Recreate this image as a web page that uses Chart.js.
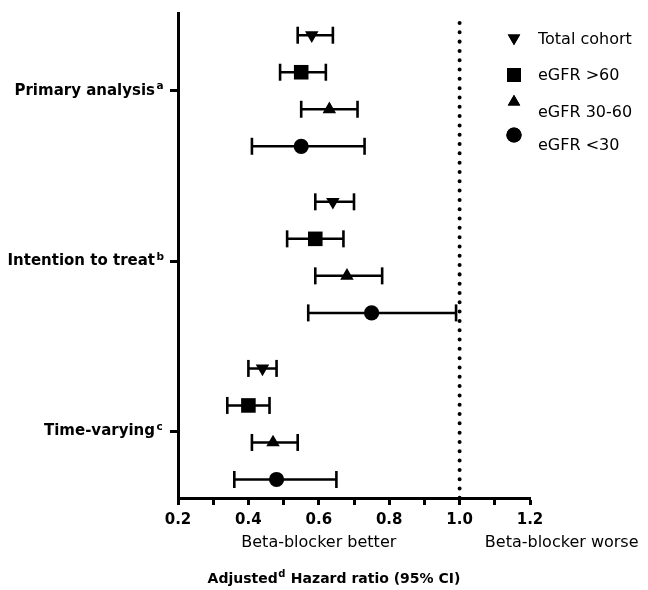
<!DOCTYPE html>
<html>
<head>
<meta charset="utf-8">
<script src="https://cdn.jsdelivr.net/npm/chart.js"></script>
<style>
html,body{margin:0;padding:0;background:#fff;}
#wrap{width:648px;height:590px;position:relative;}
</style>
</head>
<body>
<div id="wrap"><canvas id="c" width="648" height="590"></canvas></div>
<script>
// ---- data ----
const groups = ['Primary analysis', 'Intention to treat', 'Time-varying'];
const groupNotes = ['a', 'b', 'c'];
const seriesNames = ['Total cohort', 'eGFR >60', 'eGFR 30-60', 'eGFR <30'];
// hazard ratios and 95% CI per group (Primary, ITT, Time-varying)
const hrTotal = [0.58, 0.64, 0.44];
const loTotal = [0.54, 0.59, 0.40];
const hiTotal = [0.64, 0.70, 0.48];
const hrGt60 = [0.55, 0.59, 0.40];
const loGt60 = [0.49, 0.51, 0.34];
const hiGt60 = [0.62, 0.67, 0.46];
const hr3060 = [0.63, 0.68, 0.47];
const lo3060 = [0.55, 0.59, 0.41];
const hi3060 = [0.71, 0.78, 0.54];
const hrLt30 = [0.55, 0.75, 0.48];
const loLt30 = [0.41, 0.57, 0.36];
const hiLt30 = [0.73, 0.99, 0.65];
const xTickLabels = ['0.2', '0.4', '0.6', '0.8', '1.0', '1.2'];
const referenceHR = 1.0;
const sideNotes = ['Beta-blocker better', 'Beta-blocker worse'];
const axisTitleParts = ['Adjusted', 'd', ' Hazard ratio (95% CI)'];

// ---- layout / style (not data) ----
const hrs = [hrTotal, hrGt60, hr3060, hrLt30];
const los = [loTotal, loGt60, lo3060, loLt30];
const his = [hiTotal, hiGt60, hi3060, hiLt30];
const styles = [
  {pointStyle: 'triangle', rotation: 180, radius: 7.8},
  {pointStyle: 'rect', rotation: 0, radius: 10.3},
  {pointStyle: 'triangle', rotation: 0, radius: 7.8},
  {pointStyle: 'circle', rotation: 0, radius: 7.6}
];
const GROUP_STEP = 4.5;
const rowPos = (g, s) => g * GROUP_STEP + s;
const yMin = -0.6, yMax = 12.5;
const groupTickPos = [1.5, 6.1, 10.7];
const BOLD = '"DejaVu Sans", "Liberation Sans", Arial, sans-serif';

const datasets = [];
for (let s = 0; s < 4; s++) {
  datasets.push({
    label: seriesNames[s],
    data: groups.map((g, i) => ({x: hrs[s][i], y: rowPos(i, s)})),
    showLine: false,
    pointStyle: styles[s].pointStyle,
    rotation: styles[s].rotation,
    pointRadius: styles[s].radius,
    pointHoverRadius: styles[s].radius,
    pointBackgroundColor: '#000',
    pointBorderColor: '#000',
    pointBorderWidth: 0,
    order: 0
  });
}
for (let s = 0; s < 4; s++) {
  const d = [];
  groups.forEach((g, i) => {
    d.push({x: los[s][i], y: rowPos(i, s)});
    d.push({x: his[s][i], y: rowPos(i, s)});
    d.push({x: his[s][i], y: null});
  });
  datasets.push({
    label: seriesNames[s] + ' CI',
    data: d,
    spanGaps: false,
    borderColor: '#000',
    borderWidth: 2.5,
    pointStyle: 'line',
    rotation: 90,
    pointRadius: 8.5,
    pointHoverRadius: 8.5,
    pointBorderColor: '#000',
    pointBorderWidth: 2.6,
    order: 1
  });
}
datasets.push({
  label: 'ref',
  data: [{x: referenceHR, y: -0.33}, {x: referenceHR, y: yMax}],
  borderColor: '#000',
  borderWidth: 4,
  borderDash: [0.01, 9.3],
  borderCapStyle: 'round',
  pointRadius: 0,
  order: 2
});

function drawMarker(ctx, st, x, y) {
  ctx.fillStyle = '#000';
  if (Chart.helpers && Chart.helpers.drawPoint) {
    Chart.helpers.drawPoint(ctx, {pointStyle: st.pointStyle, rotation: st.rotation, radius: st.radius, borderWidth: 0}, x, y);
    ctx.fill();
    return;
  }
  ctx.beginPath();
  const r = st.radius;
  if (st.pointStyle === 'circle') ctx.arc(x, y, r, 0, Math.PI * 2);
  else if (st.pointStyle === 'rect') { const h = r * Math.SQRT1_2; ctx.rect(x - h, y - h, 2 * h, 2 * h); }
  else {
    const dir = st.rotation === 180 ? 1 : -1;
    ctx.moveTo(x, y + dir * r);
    ctx.lineTo(x - r * 0.866, y - dir * r / 2);
    ctx.lineTo(x + r * 0.866, y - dir * r / 2);
    ctx.closePath();
  }
  ctx.fill();
}

const annot = {
  id: 'annot',
  afterDraw(chart) {
    const {ctx, chartArea, scales: {x, y}} = chart;
    ctx.save();
    ctx.fillStyle = '#000';
    // superscripts on group labels
    const yOpts = y.options;
    const labelRight = chartArea.left - yOpts.grid.tickLength - yOpts.ticks.padding;
    y.ticks.forEach((t, i) => {
      const py = y.getPixelForValue(t.value);
      ctx.font = 'bold 10.5px ' + BOLD;
      ctx.textAlign = 'left';
      ctx.textBaseline = 'alphabetic';
      ctx.fillText(groupNotes[i], labelRight + 1.5, py - 1.5);
    });
    // direction notes
    ctx.font = '16px ' + BOLD;
    ctx.textAlign = 'center';
    ctx.textBaseline = 'alphabetic';
    ctx.fillText(sideNotes[0], x.getPixelForValue(0.6), 547);
    ctx.fillText(sideNotes[1], x.getPixelForValue(1.29), 547);
    // axis title with superscript
    const mainF = 'bold 14px ' + BOLD, supF = 'bold 10px ' + BOLD;
    ctx.font = mainF; const w0 = ctx.measureText(axisTitleParts[0]).width;
    const w2 = ctx.measureText(axisTitleParts[2]).width;
    ctx.font = supF; const w1 = ctx.measureText(axisTitleParts[1]).width + 1;
    let sx = 334 - (w0 + w1 + w2) / 2;
    ctx.textAlign = 'left';
    ctx.font = mainF; ctx.fillText(axisTitleParts[0], sx, 582.5);
    ctx.font = supF; ctx.fillText(axisTitleParts[1], sx + w0 + 0.5, 576.5);
    ctx.font = mainF; ctx.fillText(axisTitleParts[2], sx + w0 + w1, 582.5);
    // legend
    const mY = [38, 75, 102, 135];
    const tY = [43.5, 80, 117, 150];
    for (let s = 0; s < 4; s++) {
      const st = Object.assign({}, styles[s]);
      if (st.pointStyle === 'triangle') st.radius = 7.2;
      if (st.pointStyle === 'rect') st.radius = 9.8;
      drawMarker(ctx, st, 514, mY[s]);
      ctx.fillStyle = '#000';
      ctx.font = '16px ' + BOLD;
      ctx.textAlign = 'left';
      ctx.textBaseline = 'alphabetic';
      ctx.fillText(chart.data.datasets[s].label, 538, tY[s]);
    }
    ctx.restore();
  }
};

new Chart(document.getElementById('c'), {
  type: 'line',
  data: {datasets},
  options: {
    responsive: false,
    animation: false,
    events: [],
    layout: {padding: {left: 0, right: 118, top: 13, bottom: 0}},
    plugins: {legend: {display: false}, tooltip: {enabled: false}, title: {display: false}},
    scales: {
      x: {
        type: 'linear', min: 0.2, max: 1.2,
        border: {display: true, color: '#000', width: 3},
        grid: {display: true, drawOnChartArea: false, drawTicks: true, tickLength: 7, tickWidth: 3, tickColor: '#000'},
        ticks: {
          stepSize: 0.1, autoSkip: false, maxRotation: 0, padding: 6, color: '#000',
          font: {family: BOLD, weight: 'bold', size: 15},
          callback: (v) => {
            const r = Math.round(v * 10);
            if (r % 2 !== 0) return '';
            const idx = (r - 2) / 2;
            return xTickLabels[idx] !== undefined ? xTickLabels[idx] : '';
          }
        },
        afterFit: (s) => { s.height = 92; s.paddingLeft = 0; s.paddingRight = 0; }
      },
      y: {
        type: 'linear', reverse: true, min: yMin, max: yMax,
        border: {display: true, color: '#000', width: 3},
        grid: {display: true, drawOnChartArea: false, drawTicks: true, tickLength: 8, tickWidth: 3, tickColor: '#000'},
        afterBuildTicks: (s) => { s.ticks = groupTickPos.map(v => ({value: v})); },
        ticks: {
          padding: 15, color: '#000', autoSkip: false,
          font: {family: BOLD, weight: 'bold', size: 15},
          callback: (v, i) => groups[i]
        },
        afterFit: (s) => { s.width = 178; s.paddingTop = 0; s.paddingBottom = 0; }
      }
    }
  },
  plugins: [annot]
});
</script>
</body>
</html>
